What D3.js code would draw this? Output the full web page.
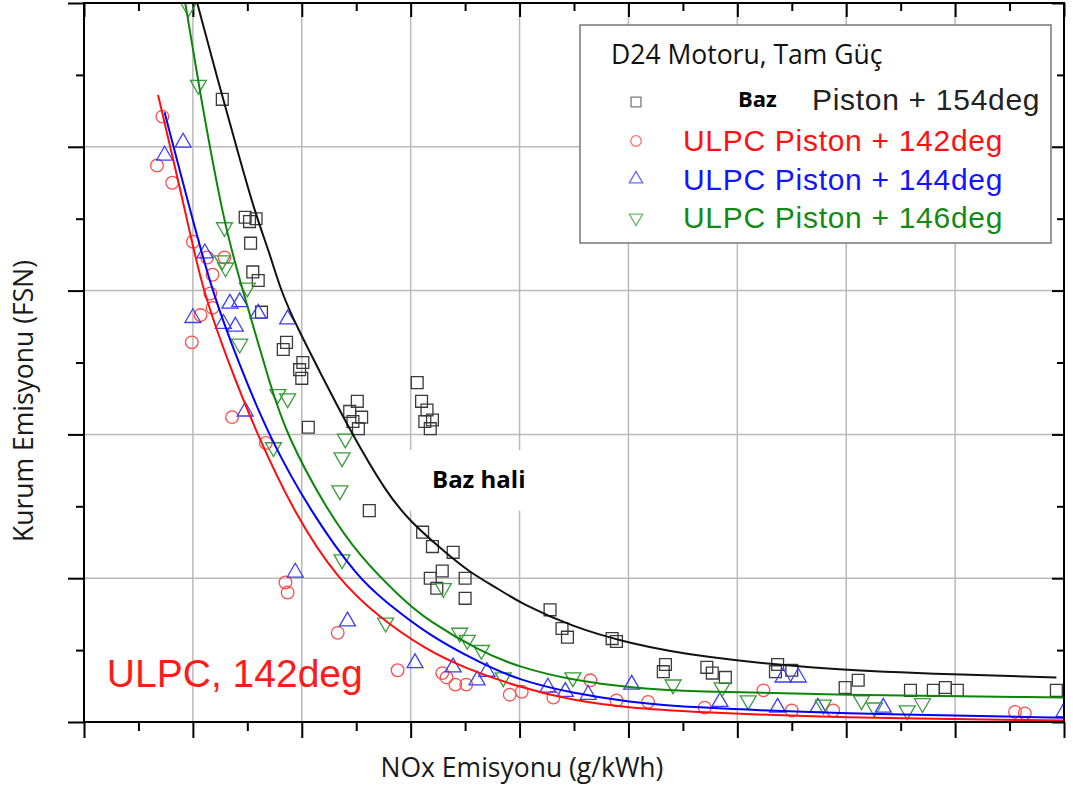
<!DOCTYPE html>
<html>
<head>
<meta charset="utf-8">
<script src="https://cdn.jsdelivr.net/npm/d3@7"></script>
<style>
  html, body { margin: 0; padding: 0; background: #fff; }
  svg { display: block; }
</style>
</head>
<body>
<svg id="chart" width="1073" height="791"></svg>
<script>
// ---- Data: NOx (g/kWh) vs. soot (FSN) for the D24 engine at full power ----
const xMajorTicks = [0, 1, 2, 3, 4, 5, 6, 7, 8, 9];
const xMinorTicks = [0.5, 1.5, 2.5, 3.5, 4.5, 5.5, 6.5, 7.5, 8.5];
const yMajorTicks = [0, 1, 2, 3, 4, 5];
const yMinorTicks = [0.5, 1.5, 2.5, 3.5, 4.5];

// Baseline piston, 154 deg (squares)
const bazPoints = [
  [1.27,4.33],[1.48,3.51],[1.58,3.50],[1.52,3.48],[1.53,3.33],[1.55,3.13],[1.60,3.07],
  [1.63,2.85],[1.86,2.64],[1.83,2.59],[2.01,2.50],[1.98,2.45],[2.00,2.39],[2.06,2.05],
  [2.51,2.23],[2.44,2.16],[2.55,2.12],[2.47,2.09],[2.52,2.04],
  [3.06,2.36],[3.10,2.23],[3.15,2.17],[3.13,2.09],[3.20,2.10],[3.18,2.04],
  [2.62,1.47],[3.11,1.32],[3.20,1.22],[3.39,1.18],[3.29,1.05],[3.18,1.00],[3.24,0.93],
  [3.50,1.00],[3.50,0.86],[4.28,0.78],[4.39,0.65],[4.44,0.59],[4.85,0.58],[4.89,0.56],
  [5.34,0.40],[5.32,0.35],[5.72,0.38],[5.77,0.34],[5.89,0.31],[6.37,0.40],[6.35,0.35],
  [6.50,0.36],[6.99,0.24],[7.11,0.29],[7.59,0.22],[7.80,0.22],[7.91,0.24],[8.02,0.22],[8.93,0.22]
];
// ULPC piston, 142 deg (circles)
const ulpc142Points = [
  [0.72,4.21],[0.67,3.87],[0.81,3.75],[1.00,3.34],[1.13,3.23],[1.29,3.23],[1.18,3.11],
  [1.16,2.98],[1.07,2.83],[1.18,2.88],[0.99,2.64],[1.36,2.12],[1.67,1.94],[1.85,0.97],
  [1.87,0.90],[2.33,0.62],[2.88,0.36],[3.29,0.34],[3.33,0.31],[3.41,0.26],[3.51,0.26],
  [3.91,0.19],[4.02,0.21],[4.31,0.17],[4.65,0.29],[4.89,0.15],[5.18,0.14],[5.70,0.10],
  [6.24,0.22],[6.50,0.08],[6.88,0.08],[8.55,0.07],[8.64,0.06]
];
// ULPC piston, 144 deg (up triangles)
const ulpc144Points = [
  [0.91,4.03],[0.74,3.94],[1.11,3.26],[1.00,2.81],[1.34,2.91],[1.43,2.92],[1.28,2.77],
  [1.39,2.75],[1.60,2.84],[1.87,2.80],[1.48,2.16],[1.94,1.04],[2.42,0.70],[3.04,0.41],
  [3.39,0.38],[3.61,0.29],[3.70,0.35],[4.26,0.24],[4.42,0.21],[4.63,0.19],[5.03,0.26],
  [5.84,0.14],[6.37,0.10],[6.42,0.31],[6.56,0.31],[6.74,0.10],[7.34,0.10],[9.00,0.07]
];
// ULPC piston, 146 deg (down triangles)
const ulpc146Points = [
  [0.96,4.97],[1.05,4.43],[1.29,3.44],[1.27,3.21],[1.30,3.16],[1.50,3.02],[1.43,2.63],
  [1.78,2.28],[1.87,2.25],[1.74,1.91],[2.40,1.97],[2.37,1.84],[2.35,1.61],[2.37,1.13],
  [2.77,0.69],[3.30,0.93],[3.45,0.62],[3.52,0.57],[3.65,0.50],[3.85,0.31],[4.49,0.31],
  [5.41,0.26],[5.86,0.24],[6.10,0.15],[6.79,0.12],[7.14,0.15],[7.26,0.10],[7.56,0.08],[7.70,0.13]
];

// Fitted trend curves
const bazFit = [
  [1.04,5.00],[1.23,4.46],[1.40,4.00],[1.57,3.54],[1.71,3.25],[1.81,2.99],[1.98,2.71],
  [2.17,2.43],[2.44,2.03],[2.78,1.59],[2.99,1.40],[3.27,1.21],[3.54,1.04],[3.82,0.92],
  [4.00,0.83],[4.49,0.66],[4.99,0.55],[5.66,0.45],[6.88,0.36],[8.02,0.33],[8.93,0.31]
];
const ulpc142Fit = [
  [0.68,4.36],[0.82,3.91],[0.96,3.45],[1.09,3.00],[1.34,2.47],[1.59,2.00],[1.94,1.44],
  [2.32,1.00],[2.72,0.72],[3.15,0.50],[3.48,0.38],[4.00,0.24],[4.49,0.15],[4.99,0.10],
  [5.59,0.07],[6.88,0.03],[9.00,0.01]
];
const ulpc144Fit = [
  [0.74,4.24],[0.96,3.60],[1.18,2.98],[1.43,2.48],[1.69,2.00],[2.08,1.46],[2.53,0.99],
  [2.75,0.85],[3.15,0.61],[3.64,0.41],[4.00,0.29],[4.49,0.20],[4.99,0.14],[5.59,0.10],
  [6.88,0.06],[9.00,0.03]
];
const ulpc146Fit = [
  [0.93,5.00],[1.05,4.44],[1.29,3.44],[1.46,3.00],[1.71,2.34],[1.86,2.00],[2.21,1.50],
  [2.53,1.15],[2.93,0.85],[3.15,0.71],[3.64,0.49],[4.00,0.38],[4.49,0.29],[4.99,0.24],
  [5.59,0.21],[6.88,0.19],[9.00,0.17]
];

const legendTitle = "D24 Motoru, Tam Güç";
const seriesNames = ["Piston + 154deg", "ULPC Piston + 142deg", "ULPC Piston + 144deg", "ULPC Piston + 146deg"];

// ---- Layout ----
const svg = d3.select("#chart");
const plot = { left: 84, top: 3, right: 1064, bottom: 722 };

const x = d3.scaleLinear().domain([0, 9]).range([plot.left, plot.right]);
const y = d3.scaleLinear().domain([0, 5]).range([plot.bottom, plot.top]);

svg.append("rect").attr("width", 1073).attr("height", 791).attr("fill", "#fff");

// Grid lines
const grid = svg.append("g").attr("stroke", "#b9b9b9").attr("stroke-width", 1.5);
grid.selectAll("line.vx").data(xMajorTicks.slice(1, -1)).join("line")
  .attr("x1", d => x(d)).attr("x2", d => x(d))
  .attr("y1", plot.top).attr("y2", plot.bottom);
grid.selectAll("line.hy").data(yMajorTicks.slice(1, -1)).join("line")
  .attr("y1", d => y(d)).attr("y2", d => y(d))
  .attr("x1", plot.left).attr("x2", plot.right);

// White backing behind the "Baz hali" annotation
svg.append("rect")
  .attr("x", x(2.90)).attr("y", y(1.89))
  .attr("width", x(4.37) - x(2.90)).attr("height", y(1.47) - y(1.89))
  .attr("fill", "#fff");

// Axes (no tick labels), outward on left/bottom, inward on top/right
function styleAxis(g) {
  g.select(".domain").remove();
  g.selectAll(".tick line").attr("stroke", "#000").attr("stroke-width", 2);
  g.selectAll(".tick text").remove();
}
svg.append("g").attr("transform", `translate(0,${plot.bottom})`)
  .call(d3.axisBottom(x).tickValues(xMajorTicks).tickSize(16).tickFormat("")).call(styleAxis);
svg.append("g").attr("transform", `translate(0,${plot.bottom})`)
  .call(d3.axisBottom(x).tickValues(xMinorTicks).tickSize(9).tickFormat("")).call(styleAxis);
svg.append("g").attr("transform", `translate(0,${plot.top})`)
  .call(d3.axisBottom(x).tickValues(xMajorTicks).tickSize(14).tickFormat("")).call(styleAxis);
svg.append("g").attr("transform", `translate(0,${plot.top})`)
  .call(d3.axisBottom(x).tickValues(xMinorTicks).tickSize(8).tickFormat("")).call(styleAxis);
svg.append("g").attr("transform", `translate(${plot.left},0)`)
  .call(d3.axisLeft(y).tickValues(yMajorTicks).tickSize(16).tickFormat("")).call(styleAxis);
svg.append("g").attr("transform", `translate(${plot.left},0)`)
  .call(d3.axisLeft(y).tickValues(yMinorTicks).tickSize(8).tickFormat("")).call(styleAxis);
svg.append("g").attr("transform", `translate(${plot.right},0)`)
  .call(d3.axisLeft(y).tickValues(yMajorTicks).tickSize(12).tickFormat("")).call(styleAxis);
svg.append("g").attr("transform", `translate(${plot.right},0)`)
  .call(d3.axisLeft(y).tickValues(yMinorTicks).tickSize(7).tickFormat("")).call(styleAxis);

// Clip for data marks
svg.append("clipPath").attr("id", "plotClip").append("rect")
  .attr("x", plot.left).attr("y", plot.top)
  .attr("width", plot.right - plot.left).attr("height", plot.bottom - plot.top);
const data = svg.append("g").attr("clip-path", "url(#plotClip)");

const series = [
  { pts: bazPoints,     fit: bazFit,     sym: d3.symbolSquare,   size: 140, rot: 0,   mark: "#3a3a3a", line: "#111" },
  { pts: ulpc142Points, fit: ulpc142Fit, sym: d3.symbolCircle,   size: 125, rot: 0,   mark: "#ff4d4d", line: "#ff0d0d" },
  { pts: ulpc144Points, fit: ulpc144Fit, sym: d3.symbolTriangle, size: 110, rot: 0,   mark: "#3d3dff", line: "#0000ff" },
  { pts: ulpc146Points, fit: ulpc146Fit, sym: d3.symbolTriangle, size: 110, rot: 180, mark: "#3a9c3a", line: "#0a870a" }
];

const line = d3.line().x(d => x(d[0])).y(d => y(d[1])).curve(d3.curveBasis);

series.forEach(s => {
  data.append("g").selectAll("path").data(s.pts).join("path")
    .attr("d", d3.symbol().type(s.sym).size(s.size))
    .attr("transform", d => `translate(${x(d[0])},${y(d[1])}) rotate(${s.rot})`)
    .attr("fill", "none").attr("stroke", s.mark).attr("stroke-width", 1.3);
});
series.forEach(s => {
  data.append("path").datum(s.fit)
    .attr("d", line).attr("fill", "none")
    .attr("stroke", s.line).attr("stroke-width", 2);
});

// Plot frame
svg.append("rect")
  .attr("x", plot.left).attr("y", plot.top)
  .attr("width", plot.right - plot.left).attr("height", plot.bottom - plot.top)
  .attr("fill", "none").attr("stroke", "#000").attr("stroke-width", 2);

// Annotations
svg.append("text").attr("x", x(3.196)).attr("y", y(1.627))
  .attr("font-family", "'Open Sans', sans-serif").attr("font-weight", 700)
  .attr("font-size", 24).attr("fill", "#000").text("Baz hali");
svg.append("text").attr("x", x(0.21)).attr("y", y(0.243))
  .attr("font-family", "'Liberation Sans', Arial, sans-serif")
  .attr("font-size", 39).attr("fill", "#ff1a1a").text("ULPC, 142deg");

// Axis titles
svg.append("text").attr("x", 522).attr("y", 777).attr("text-anchor", "middle")
  .attr("font-family", "'Open Sans', sans-serif").attr("font-size", 26.5).attr("fill", "#1a1a1a")
  .text("NOx Emisyonu (g/kWh)");
svg.append("text").attr("transform", "translate(33,401) rotate(-90)").attr("text-anchor", "middle")
  .attr("font-family", "'Open Sans', sans-serif").attr("font-size", 26.5).attr("fill", "#1a1a1a")
  .text("Kurum Emisyonu (FSN)");

// Legend
const lg = svg.append("g");
lg.append("rect").attr("x", 580).attr("y", 25).attr("width", 471).attr("height", 218)
  .attr("fill", "#fff").attr("stroke", "#777").attr("stroke-width", 1.5);
lg.append("text").attr("x", 611).attr("y", 64)
  .attr("font-family", "'Open Sans', sans-serif").attr("font-size", 26.5).attr("fill", "#111")
  .text(legendTitle);
const rowY = [102, 141, 179, 218];
const legendMarkColors = ["#777", "#ff7070", "#6a6aff", "#6abb6a"];
series.forEach((s, i) => {
  lg.append("path")
    .attr("d", d3.symbol().type(s.sym).size(s.size * 0.7))
    .attr("transform", `translate(636,${rowY[i]}) rotate(${s.rot})`)
    .attr("fill", "none").attr("stroke", legendMarkColors[i]).attr("stroke-width", 1.3);
});
lg.append("text").attr("x", 738).attr("y", 107)
  .attr("font-family", "'Open Sans', sans-serif").attr("font-weight", 700)
  .attr("font-size", 22).attr("fill", "#000").text("Baz");
const legendTextX = [812, 683, 683, 683];
const legendTextY = [110, 151, 190, 228];
const legendTextColors = ["#222", "#ff1010", "#1414ff", "#138a13"];
seriesNames.forEach((name, i) => {
  lg.append("text").attr("x", legendTextX[i]).attr("y", legendTextY[i])
    .attr("font-family", "'Liberation Sans', Arial, sans-serif").attr("font-size", 30)
    .attr("letter-spacing", 0.7)
    .attr("fill", legendTextColors[i]).text(name);
});
</script>
</body>
</html>
